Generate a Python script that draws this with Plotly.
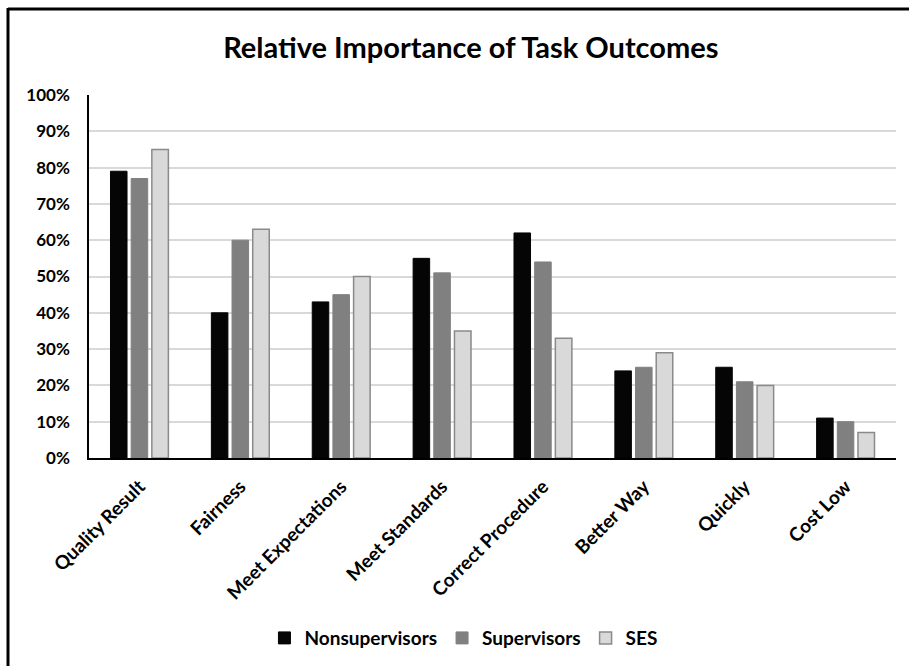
import plotly.graph_objects as go

categories = ["Quality Result", "Fairness", "Meet Expectations", "Meet Standards",
              "Correct Procedure", "Better Way", "Quickly", "Cost Low"]
nonsupervisors = [0.79, 0.40, 0.43, 0.55, 0.62, 0.24, 0.25, 0.11]
supervisors = [0.77, 0.60, 0.45, 0.51, 0.54, 0.25, 0.21, 0.10]
ses = [0.85, 0.63, 0.50, 0.35, 0.33, 0.29, 0.20, 0.07]
tick_vals = [0, 0.1, 0.2, 0.3, 0.4, 0.5, 0.6, 0.7, 0.8, 0.9, 1.0]
tick_text = ["0%", "10%", "20%", "30%", "40%", "50%", "60%", "70%", "80%", "90%", "100%"]

FONT = "Lato"

fig = go.Figure()
fig.add_trace(go.Bar(name="Nonsupervisors", x=categories, y=nonsupervisors,
                     marker=dict(color="#050505", line=dict(color="#050505", width=1))))
fig.add_trace(go.Bar(name="Supervisors", x=categories, y=supervisors,
                     marker=dict(color="#808080", line=dict(color="#808080", width=1))))
fig.add_trace(go.Bar(name="SES", x=categories, y=ses,
                     marker=dict(color="#d9d9d9", line=dict(color="#8a8a8a", width=1.5))))

fig.update_layout(
    width=909, height=666,
    margin=dict(l=89, r=13, t=95, b=208, autoexpand=False),
    paper_bgcolor="white", plot_bgcolor="white",
    barmode="group", bargap=0.385, bargroupgap=0.2,
    font=dict(family=FONT, color="#000000"),
    title=dict(text="<b>Relative Importance of Task Outcomes</b>",
               x=0.518, xanchor="center", y=0.928, yanchor="middle",
               font=dict(family=FONT, size=29, color="#000000")),
    xaxis=dict(showline=True, linecolor="#000000", linewidth=2,
               tickangle=-45, ticks="", showgrid=False, ticklabelstandoff=8,
               tickfont=dict(family=FONT, size=19, color="#000000"),
               tickprefix="<b>", ticksuffix="</b>"),
    yaxis=dict(range=[0, 1.0], tickvals=tick_vals, ticktext=["<b>%s</b>" % t for t in tick_text],
               showline=True, linecolor="#000000", linewidth=1.5,
               showgrid=True, gridcolor="#d9d9d9", gridwidth=1.5,
               zeroline=False, ticks="", ticklen=0, ticklabelstandoff=14,
               tickfont=dict(family=FONT, size=17, color="#000000")),
    legend=dict(orientation="h", x=0.464, xanchor="center", y=-0.496, yanchor="middle",
                font=dict(family=FONT, size=19, color="#000000"),
                itemwidth=30, traceorder="normal"),
    showlegend=True,
)
for tr in fig.data:
    tr.name = "<b>%s</b>" % tr.name

# outer frame (top and left edges)
fig.add_shape(type="line", xref="paper", yref="paper",
              x0=(8 - 89) / 807, x1=(909 - 89) / 807, y0=(458 - 9) / 363, y1=(458 - 9) / 363,
              line=dict(color="#000000", width=3))
fig.add_shape(type="line", xref="paper", yref="paper",
              x0=(8 - 89) / 807, x1=(8 - 89) / 807, y0=(458 - 8) / 363, y1=(458 - 666) / 363,
              line=dict(color="#000000", width=3))

fig.write_html("out.html")
